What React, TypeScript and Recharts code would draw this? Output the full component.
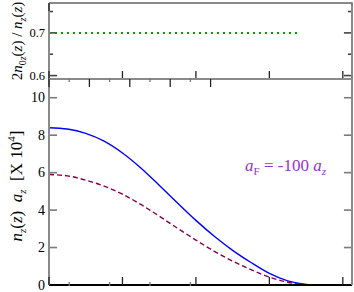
import { Line, LineChart, ReferenceLine, XAxis, YAxis } from "recharts";

// z positions (axis units) and the two density profiles (x 10^4)
const zValues = [0, 0.5, 1, 1.5, 2, 2.5, 3, 3.5, 4, 4.5, 5, 5.5, 6, 6.5, 7, 7.2];
const nTotal = [8.4, 8.33, 8.1, 7.68, 7.05, 6.25, 5.33, 4.38, 3.45, 2.6, 1.85, 1.2, 0.62, 0.22, 0.03, 0];
const nPair = [5.9, 5.83, 5.6, 5.28, 4.85, 4.3, 3.68, 3.03, 2.4, 1.8, 1.28, 0.82, 0.42, 0.15, 0.02, 0];

// ratio panel
const ratioZ = [0, 6.83];
const ratioValues = [0.7, 0.7];

const xMajor = [0, 2, 4, 6, 8];
const xMinor = [1, 3, 5, 7];
const ratioMajor = [0.6, 0.7];
const ratioMinor = [0.65, 0.75];
const densityTicks = [0, 2, 4, 6, 8, 10];

const densityData = zValues.map((z, i) => ({ z, total: nTotal[i], pair: nPair[i] }));
const ratioData = ratioZ.map((z, i) => ({ z, ratio: ratioValues[i] }));

const serif = "'Liberation Serif', 'DejaVu Serif', serif";
const frame = "#8a8a8a";
const xDomain: [number, number] = [0, 8.25];
const sp = "\u00a0";
const majorLen = 0.22; // inward tick length in z units (~8px)
const minorLen = 0.11;

function yLabel(fontSize: number) {
  return (props: any) => {
    const { x, y, payload } = props;
    return (
      <text x={x - 4} y={y} dy="0.34em" textAnchor="end" fontFamily={serif} fontSize={fontSize} fill="#000">
        {payload.value}
      </text>
    );
  };
}

function xTick(dir: number, len: number, color: string) {
  return (props: any) => {
    const { x, y } = props;
    return <line x1={x} y1={y} x2={x} y2={y + dir * len} stroke={color} strokeWidth={1.3} />;
  };
}

// inward y ticks on both sides, drawn as short reference segments
function yTicks(values: number[], len: number, color: string) {
  return values.flatMap((v) => [
    <ReferenceLine key={`l${v}`} xAxisId="b" yAxisId="l" segment={[{ x: xDomain[0], y: v }, { x: xDomain[0] + len, y: v }]}
      stroke={color} strokeWidth={1.6} />,
    <ReferenceLine key={`r${v}`} xAxisId="b" yAxisId="l" segment={[{ x: xDomain[1] - len, y: v }, { x: xDomain[1], y: v }]}
      stroke={color} strokeWidth={1.6} />,
  ]);
}

function frameAxes(yDomain: [number, number], yMajor: number[], yFont: number, bottomStroke: string) {
  return [
    <XAxis key="b" xAxisId="b" dataKey="z" type="number" domain={xDomain} ticks={xMajor} height={1} interval={0}
      axisLine={{ stroke: bottomStroke, strokeWidth: 2 }} tickSize={0} tickMargin={0} tickLine={false} tick={xTick(-1, 8, "#222")} />,
    <XAxis key="bm" xAxisId="bm" type="number" domain={xDomain} ticks={xMinor} height={1} interval={0}
      axisLine={false} tickSize={0} tickMargin={0} tickLine={false} tick={xTick(-1, 4, "#777")} />,
    <XAxis key="t" xAxisId="t" orientation="top" type="number" domain={xDomain} ticks={xMajor} height={1} interval={0}
      axisLine={{ stroke: frame, strokeWidth: 2 }} tickSize={0} tickMargin={0} tickLine={false} tick={xTick(1, 8, "#222")} />,
    <XAxis key="tm" xAxisId="tm" orientation="top" type="number" domain={xDomain} ticks={xMinor} height={1} interval={0}
      axisLine={false} tickSize={0} tickMargin={0} tickLine={false} tick={xTick(1, 4, "#777")} />,
    <YAxis key="l" yAxisId="l" type="number" domain={yDomain} ticks={yMajor} width={2} interval={0}
      axisLine={{ stroke: frame, strokeWidth: 2 }} tickSize={0} tickMargin={0} tickLine={false} tick={yLabel(yFont)} />,
    <YAxis key="r" yAxisId="r" orientation="right" type="number" domain={yDomain} ticks={yMajor} width={2} interval={0}
      axisLine={{ stroke: frame, strokeWidth: 2 }} tickSize={0} tickMargin={0} tickLine={false} tick={false} />,
  ];
}

export default function App() {
  return (
    <div style={{ position: "absolute", left: 0, top: 0, width: 354, height: 292, background: "#fff", fontFamily: serif }}>
      <div style={{ position: "absolute", left: 0, top: 0 }}>
        <LineChart width={354} height={90} data={ratioData} margin={{ top: 1, right: 0, bottom: 9, left: 47 }}>
          {frameAxes([0.592, 0.77], ratioMajor, 12.5, frame)}
          {yTicks(ratioMajor, majorLen, "#444")}
          {yTicks(ratioMinor, minorLen, "#444")}
          <Line xAxisId="b" yAxisId="l" dataKey="ratio" stroke="#00a000" strokeWidth={2}
            strokeDasharray="2 4" dot={false} isAnimationActive={false} />
          <text transform="translate(22,41) rotate(-90)" textAnchor="middle" fontFamily={serif} fontSize={15} fill="#000">
            <tspan>2</tspan>
            <tspan fontStyle="italic">n</tspan>
            <tspan fontSize={10} dy={4}>0</tspan>
            <tspan fontSize={10} fontStyle="italic">z</tspan>
            <tspan dy={-4}>(</tspan>
            <tspan fontStyle="italic">z</tspan>
            <tspan>){sp}/{sp}</tspan>
            <tspan fontStyle="italic">n</tspan>
            <tspan fontSize={10} fontStyle="italic" dy={4}>z</tspan>
            <tspan dy={-4}>(</tspan>
            <tspan fontStyle="italic">z</tspan>
            <tspan>)</tspan>
          </text>
        </LineChart>
      </div>
      <div style={{ position: "absolute", left: 0, top: 76 }}>
        <LineChart width={354} height={216} data={densityData} margin={{ top: 1, right: 0, bottom: 5, left: 47 }}>
          {frameAxes([0, 11], densityTicks, 14, "#000")}
          {yTicks(densityTicks, majorLen, "#7a7a7a")}
          <Line xAxisId="b" yAxisId="l" type="monotone" dataKey="total" stroke="#0000ff" strokeWidth={1.4}
            dot={false} isAnimationActive={false} />
          <Line xAxisId="b" yAxisId="l" type="monotone" dataKey="pair" stroke="#800050" strokeWidth={1.4}
            strokeDasharray="5 3" dot={false} isAnimationActive={false} />
          <text transform="translate(22,110) rotate(-90)" textAnchor="middle" fontFamily={serif} fontSize={17} fill="#000">
            <tspan fontStyle="italic">n</tspan>
            <tspan fontSize={11} fontStyle="italic" dy={4}>z</tspan>
            <tspan dy={-4}>(</tspan>
            <tspan fontStyle="italic">z</tspan>
            <tspan>){sp}{sp}</tspan>
            <tspan fontStyle="italic">a</tspan>
            <tspan fontSize={11} fontStyle="italic" dy={4}>z</tspan>
            <tspan dy={-4}>{sp}{sp}[X{sp}10</tspan>
            <tspan fontSize={11} dy={-7}>4</tspan>
            <tspan dy={7}>]</tspan>
          </text>
          <text x={245} y={95} fontFamily={serif} fontSize={17} fill="#9a32cd">
            <tspan fontStyle="italic">a</tspan>
            <tspan fontSize={11} dy={4}>F</tspan>
            <tspan dy={-4}>{sp}={sp}-100{sp}</tspan>
            <tspan fontStyle="italic">a</tspan>
            <tspan fontSize={11} fontStyle="italic" dy={4}>z</tspan>
          </text>
        </LineChart>
      </div>
    </div>
  );
}
